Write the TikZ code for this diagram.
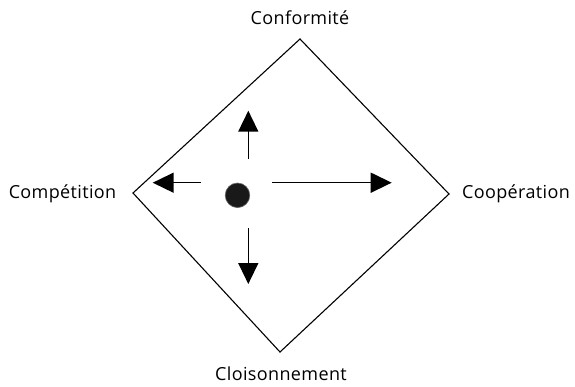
\documentclass[tikz,border=0pt]{standalone}
\usepackage{fontspec}
\setmainfont{Open Sans}
\newfontfamily\lblfont[LetterSpace=2]{Open Sans}
\usetikzlibrary{arrows.meta}
\begin{document}
\begin{tikzpicture}[x=1pt,y=-1pt,
  lbl/.style={inner sep=0pt,anchor=base,font=\lblfont\fontsize{18}{20}\selectfont},
  edge/.style={line width=1.1pt,line join=miter},
  arr/.style={line width=1.5pt,-{Triangle[width=20pt,length=21pt]}},
  dot/.style={circle,fill=black!90,draw=black!60,line width=0.6pt,minimum size=24.6pt,inner sep=0pt}]
\fill[white] (0,0) rectangle (575,386);
\useasboundingbox (0,0) rectangle (575,386);
\coordinate (T) at (300,39);
\coordinate (R) at (449,194);
\coordinate (B) at (280,352);
\coordinate (L) at (133,193);
\draw[edge] (T) -- (R) -- (B) -- (L) -- cycle;
\node[dot] (c) at (237.5,195.3) {};
\coordinate (us) at (248.3,159);
\coordinate (ue) at (248.3,110.7);
\coordinate (ds) at (248.3,228.3);
\coordinate (de) at (248.3,284);
\coordinate (ls) at (201,182.7);
\coordinate (le) at (152.7,182.7);
\coordinate (rs) at (272.3,182.7);
\coordinate (re) at (391.7,182.7);
\draw[arr] (us) -- (ue);
\draw[arr] (ds) -- (de);
\draw[arr] (ls) -- (le);
\draw[arr] (rs) -- (re);
\node[lbl] (conf) at (300,24) {Conformité};
\node[lbl] (comp) at (62.5,198) {Compétition};
\node[lbl] (coop) at (516,198) {Coopération};
\node[lbl] (cloi) at (281,380) {Cloisonnement};
\end{tikzpicture}
\end{document}
